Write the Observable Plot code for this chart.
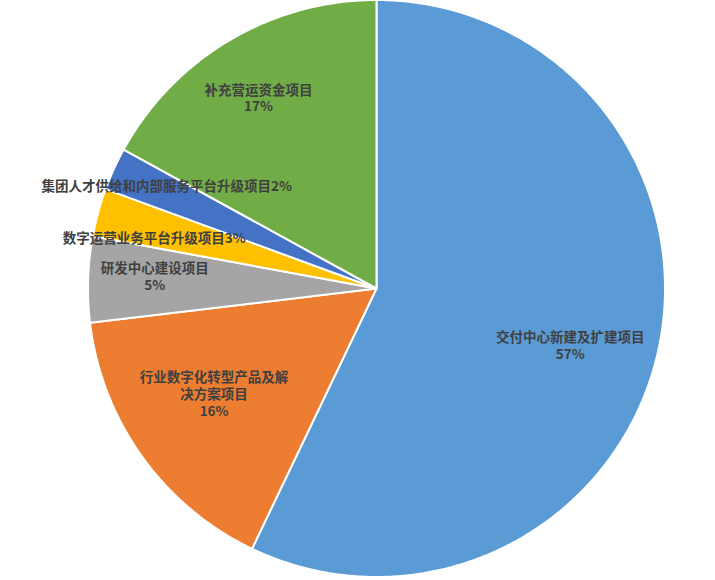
<!DOCTYPE html>
<html>
<head>
<meta charset="utf-8">
<script src="https://cdn.jsdelivr.net/npm/d3@7"></script>
<script src="https://cdn.jsdelivr.net/npm/@observablehq/plot@0.6"></script>
<style>
  html, body { margin: 0; padding: 0; background: #ffffff; }
  #chart svg { display: block; }
</style>
</head>
<body>
<div id="chart"></div>
<script>
// ---- data ----
const categories = [
  "交付中心新建及扩建项目",
  "行业数字化转型产品及解决方案项目",
  "研发中心建设项目",
  "数字运营业务平台升级项目",
  "集团人才供给和内部服务平台升级项目",
  "补充营运资金项目"
];
const values = [57.1, 16.0, 4.8, 2.7, 2.4, 17.0];
const percentLabels = ["57%", "16%", "5%", "3%", "2%", "17%"];
const labelTexts = [
  "交付中心新建及扩建项目\n57%",
  "行业数字化转型产品及解\n决方案项目\n16%",
  "研发中心建设项目\n5%",
  "数字运营业务平台升级项目3%",
  "集团人才供给和内部服务平台升级项目2%",
  "补充营运资金项目\n17%"
];
const colors = ["#5B9BD5", "#ED7D31", "#A5A5A5", "#FFC000", "#4472C4", "#70AD47"];
// label placement: [radius fraction, angle nudge in degrees]
const labelLayout = [[0.70, 3.6], [0.67, 2.8], [0.77, 1.3], [0.79, -2.4], [0.81, 1.7], [0.778, -1.1]];

// ---- layout ----
const W = 715, H = 580, cx = 376, cy = 288, R = 288.5;

const arcs = d3.pie().sort(null).value(d => d)(values);

const slices = arcs.map((a, i) => {
  const pts = [{x: 0, y: 0}];
  const n = Math.max(2, Math.ceil((a.endAngle - a.startAngle) / (Math.PI / 360)));
  for (let k = 0; k <= n; k++) {
    const t = a.startAngle + (a.endAngle - a.startAngle) * k / n;
    pts.push({x: Math.sin(t), y: -Math.cos(t)});
  }
  return {pts, color: colors[i], name: categories[i]};
});

const labels = arcs.map((a, i) => {
  const [rf, nudge] = labelLayout[i];
  const t = (a.startAngle + a.endAngle) / 2 + nudge * Math.PI / 180;
  return {x: rf * Math.sin(t), y: -rf * Math.cos(t), text: labelTexts[i], pct: percentLabels[i]};
});

const marks = slices.map(s =>
  Plot.line(s.pts, {x: "x", y: "y", fill: s.color, stroke: "#ffffff", strokeWidth: 2, curve: "linear-closed", strokeLinejoin: "round"})
);
marks.push(Plot.text(labels, {
  x: "x", y: "y", text: "text",
  fontSize: 13.5, fontWeight: "bold", fill: "#404040",
  lineAnchor: "middle", textAnchor: "middle", lineHeight: 1.25
}));

const chart = Plot.plot({
  width: W,
  height: H,
  margin: 0,
  style: {fontFamily: "'Noto Sans CJK SC', 'Noto Sans', sans-serif", background: "#ffffff"},
  x: {domain: [-cx / R, (W - cx) / R], range: [0, W], axis: null},
  y: {domain: [-cy / R, (H - cy) / R], range: [0, H], axis: null},
  marks
});
document.getElementById("chart").appendChild(chart);
</script>
</body>
</html>
